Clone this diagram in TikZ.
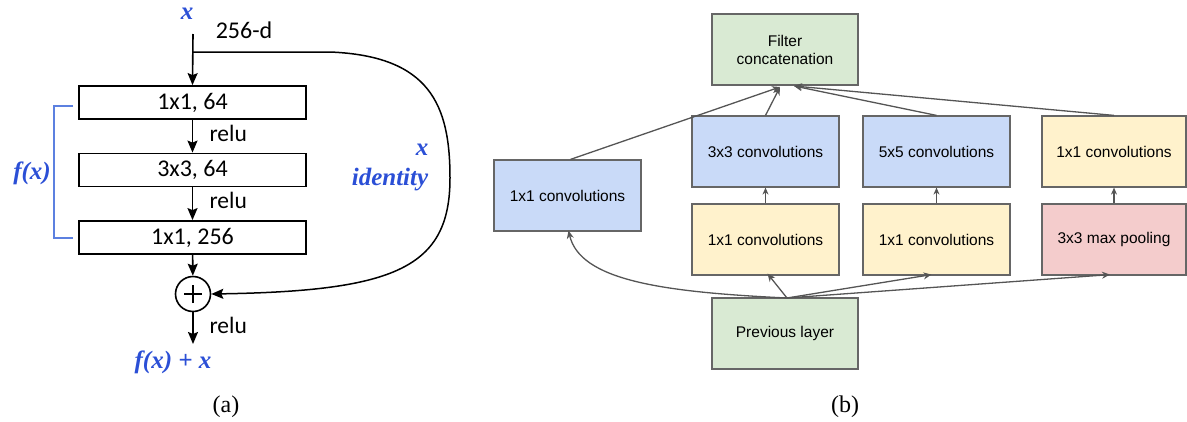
\documentclass[tikz,border=0pt]{standalone}
\usepackage{fontspec}
\setmainfont{Liberation Serif}
\newfontfamily\calib{Carlito}
\newfontfamily\arial{Liberation Sans}
\usetikzlibrary{arrows.meta}
\definecolor{lblblue}{HTML}{2B4FD6}
\definecolor{brblue}{HTML}{5C80E0}
\definecolor{gbox}{HTML}{D9EAD3}
\definecolor{bbox}{HTML}{C9DAF8}
\definecolor{ybox}{HTML}{FFF2CC}
\definecolor{pbox}{HTML}{F4CCCC}
\definecolor{edge}{HTML}{666666}
\definecolor{arr}{HTML}{555555}
\tikzset{
  resbox/.style={draw=black, line width=1.8pt, minimum width=227pt, minimum height=33pt, inner sep=0pt,
    font=\calib\fontsize{24}{26}\selectfont},
  resarrow/.style={line width=1.6pt, -{Stealth[length=12pt,width=10pt,inset=2pt]}},
  relulbl/.style={font=\calib\fontsize{23.5}{26}\selectfont, anchor=west},
  bluelbl/.style={text=lblblue, font=\bfseries\itshape\fontsize{25}{27}\selectfont},
  incbox/.style={draw=edge, line width=1.2pt, minimum width=146pt, minimum height=71pt, inner sep=0pt,
    font=\arial\fontsize{15.5}{18}\selectfont, align=center},
  incarrow/.style={draw=arr, line width=1.3pt, -{Stealth[length=8pt,width=7pt]}},
  caplbl/.style={font=\fontsize{24}{26}\selectfont}
}
\begin{document}
\begin{tikzpicture}[x=1pt,y=-1pt]
\useasboundingbox (0,0) rectangle (1187,421);
% ---------- (a) residual block ----------
\node[bluelbl] (xin) at (187,14) {x};
\node[font=\calib\fontsize{24}{26}\selectfont] (dim) at (244,30) {256-d};
\coordinate (top) at (193,34);
\coordinate (split) at (193,52);
\node[resbox] (b1) at (192.5,102.5) {1x1, 64};
\node[resbox] (b2) at (192.5,170) {3x3, 64};
\node[resbox] (b3) at (192.5,237.5) {1x1, 256};
\node[draw=black, line width=1.6pt, circle, minimum size=35pt, inner sep=0pt] (plus) at (193,294) {};
\draw[line width=1.6pt] ([xshift=-9pt]plus.center) -- ([xshift=9pt]plus.center);
\draw[line width=1.6pt] ([yshift=-9pt]plus.center) -- ([yshift=9pt]plus.center);
\coordinate (out) at (193,344);
\draw[resarrow] (top) -- (b1.north);
\draw[resarrow] (b1) -- (b2);
\draw[resarrow] (b2) -- (b3);
\draw[resarrow] (b3) -- (plus);
\draw[resarrow] (plus) -- (out);
\node[relulbl] (r1) at (206,133) {relu};
\node[relulbl] (r2) at (206,200) {relu};
\node[relulbl] (r3) at (206,325) {relu};
\coordinate (farR) at (450,178);
\draw[line width=1.5pt, -{Stealth[length=12pt,width=10pt,inset=2pt]}]
  (split) -- (330,52) .. controls (430,56) and (450,105) .. (farR)
  .. controls (450,268) and (395,291) .. (plus.east);
\node[bluelbl] (xid) at (422,150) {x};
\node[bluelbl] (ident) at (390,180) {identity};
\node[bluelbl] (fx) at (32,173) {f(x)};
\node[bluelbl] (fxx) at (173,362) {f(x) + x};
\coordinate (brA) at (73,106);
\coordinate (brB) at (54,106);
\coordinate (brC) at (54,238);
\coordinate (brD) at (73,238);
\draw[brblue, line width=1.3pt] (brA) -- (brB) -- (brC) -- (brD);
\node[caplbl] (capa) at (226,407) {(a)};
% ---------- (b) inception module ----------
\node[incbox, fill=gbox] (concat) at (785,49.5) {Filter\\concatenation};
\node[incbox, fill=bbox, minimum width=147pt] (c1) at (567.5,195.5) {1x1 convolutions};
\node[incbox, fill=bbox, minimum width=147pt] (c3) at (765.5,151.5) {3x3 convolutions};
\node[incbox, fill=ybox, minimum width=147pt] (r3x) at (765.5,239.5) {1x1 convolutions};
\node[incbox, fill=gbox] (prev) at (785,333.5) {Previous layer};
\node[incbox, fill=bbox, minimum width=147pt] (c5) at (936.5,151.5) {5x5 convolutions};
\node[incbox, fill=ybox, minimum width=147pt] (r5x) at (936.5,239.5) {1x1 convolutions};
\node[incbox, fill=ybox, minimum width=144pt] (pp) at (1114,151.5) {1x1 convolutions};
\node[incbox, fill=pbox, minimum width=144pt] (mp) at (1114,239.5) {3x3 max pooling};
\node[caplbl] (capb) at (845,407) {(b)};
\coordinate (inL) at (780,87);
\coordinate (inR) at (794,86);
\coordinate (src) at (787,298);
% to concatenation
\draw[incarrow] ([xshift=3pt]c1.north) -- (inL);
\draw[incarrow] (c3.north) -- (inL);
\draw[incarrow] (c5.north) -- (inR);
\draw[incarrow] (pp.north) -- (inR);
% inner small arrows
\draw[incarrow, -{Stealth[length=7pt,width=6pt]}] (r3x.north) -- (c3.south);
\draw[incarrow, -{Stealth[length=7pt,width=6pt]}] (r5x.north) -- (c5.south);
\draw[incarrow, -{Stealth[length=7pt,width=6pt]}] (mp.north) -- (pp.south);
% from previous layer
\draw[incarrow] (src) .. controls (660,292) and (580,280) .. ([xshift=1pt,yshift=1pt]c1.south);
\draw[incarrow] (src) -- ([xshift=2pt,yshift=2pt]r3x.south);
\draw[incarrow] (src) -- ([xshift=-5pt,yshift=1pt]r5x.south);
\draw[incarrow] (src) -- ([xshift=-4pt,yshift=1pt]mp.south);
\end{tikzpicture}
\end{document}
